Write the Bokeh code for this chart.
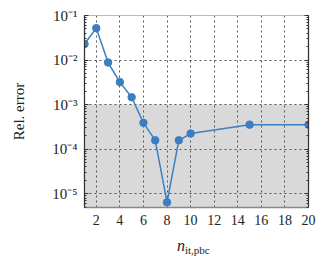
from bokeh.plotting import figure
from bokeh.models import (LogAxis, FixedTicker, LogTicker, CustomJSTickFormatter,
                          BoxAnnotation, ColumnDataSource, Range1d, Div)
from bokeh.layouts import column
from bokeh.embed import file_html
from bokeh.resources import INLINE

# data
n_it = [1, 2, 3, 4, 5, 6, 7, 8, 9, 10, 15, 20]
rel_error = [2.3e-2, 5.2e-2, 8.8e-3, 3.2e-3, 1.46e-3, 3.9e-4, 1.58e-4,
             6.4e-6, 1.58e-4, 2.24e-4, 3.55e-4, 3.55e-4]
x_ticks = [2, 4, 6, 8, 10, 12, 14, 16, 18, 20]
y_ticks = [1e-5, 1e-4, 1e-3, 1e-2, 1e-1]
threshold = 1e-3
x_min, x_max = 1, 20
y_min, y_max = 4.9e-6, 1e-1

FONT = "Liberation Serif"
BLUE = "#3b7ec2"
TXT = "#222222"

p = figure(width=335, height=232, y_axis_type="log",
           x_range=Range1d(x_min, x_max), y_range=Range1d(y_min, y_max),
           output_backend="svg", toolbar_location=None,
           min_border_left=84, min_border_right=27,
           min_border_top=15, min_border_bottom=25)
p.background_fill_color = "white"
p.border_fill_color = "white"
p.outline_line_color = "#bbbbbb"
p.outline_line_width = 1.2

box = BoxAnnotation(top=threshold, fill_color="#d9d9d9", fill_alpha=1.0,
                    line_color=None, level="image")
p.add_layout(box)

src = ColumnDataSource(dict(x=n_it, y=rel_error))
p.line("x", "y", source=src, line_color=BLUE, line_width=1.5)
p.scatter("x", "y", source=src, size=7.5, fill_color=BLUE, line_color=BLUE)

fmt = CustomJSTickFormatter(code="""
const sup = {'-':'\u207b','0':'\u2070','1':'\u00b9','2':'\u00b2','3':'\u00b3','4':'\u2074','5':'\u2075','6':'\u2076','7':'\u2077','8':'\u2078','9':'\u2079'};
const e = String(Math.round(Math.log10(tick)));
return '10' + e.split('').map(c => sup[c]).join('');
""")

# grid
for g in (p.xgrid, p.ygrid):
    g.grid_line_color = "#555555"
    g.grid_line_dash = "2 3"
    g.grid_line_width = 1
p.xgrid.ticker = FixedTicker(ticks=x_ticks)
p.ygrid.ticker = FixedTicker(ticks=y_ticks)

# bottom axis
xa = p.xaxis[0]
xa.ticker = FixedTicker(ticks=x_ticks)
xa.axis_line_color = "#888888"
xa.axis_line_width = 1.5
xa.major_tick_in = 0
xa.major_tick_out = 0
xa.minor_tick_line_color = None
xa.major_label_text_font = FONT
xa.major_label_text_font_size = "14px"
xa.major_label_text_color = TXT
xa.major_label_standoff = 7

# left axis
ya = p.yaxis[0]
ya.ticker = LogTicker(num_minor_ticks=10)
ya.formatter = fmt
ya.axis_line_color = "#333333"
ya.axis_line_width = 1.2
ya.major_tick_in = 4
ya.major_tick_out = 0
ya.minor_tick_in = 2
ya.minor_tick_out = 0
ya.major_tick_line_color = "#333333"
ya.minor_tick_line_color = "#333333"
ya.major_label_text_font = FONT
ya.major_label_text_font_size = "15px"
ya.major_label_text_color = TXT
ya.major_label_standoff = 7
ya.axis_label = "Rel. error"
ya.axis_label_text_font = FONT
ya.axis_label_text_font_style = "normal"
ya.axis_label_text_font_size = "15px"
ya.axis_label_text_color = TXT
ya.axis_label_standoff = 22

# right axis
ra = LogAxis(ticker=LogTicker(num_minor_ticks=10))
ra.axis_line_color = "#333333"
ra.axis_line_width = 1.2
ra.major_tick_in = 4
ra.major_tick_out = 0
ra.minor_tick_in = 2
ra.minor_tick_out = 0
ra.major_tick_line_color = "#333333"
ra.minor_tick_line_color = "#333333"
ra.major_label_text_font_size = "0px"
ra.major_label_text_alpha = 0
p.add_layout(ra, "right")

# x label: n_{it,pbc}
xlabel = Div(
    text=('<span style="font-style:italic;font-size:16px;">n</span>'
          '<span style="font-size:11px;position:relative;top:3px;">it,pbc</span>'),
    width=335, height=18, margin=(6, 0, 0, 0),
    styles={"font-family": FONT, "color": TXT, "line-height": "16px",
            "padding-left": "177px", "white-space": "nowrap"})

layout = column(p, xlabel, spacing=0)
open("out.html", "w").write(file_html(layout, INLINE))
